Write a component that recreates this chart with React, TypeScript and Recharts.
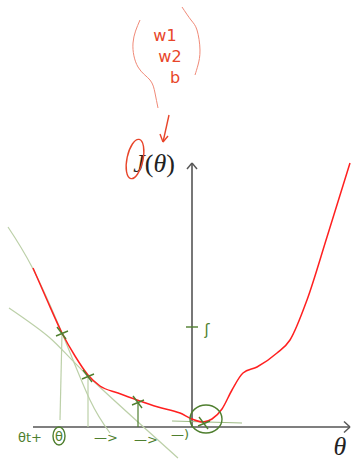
import { ComposedChart, Line, Scatter, XAxis, YAxis, ReferenceLine, ReferenceDot } from 'recharts';

// cost curve J(θ), one unit = a fifth of the marked "5" step
const theta = [-7.95, -7.25, -6.5, -5.85, -5.2, -4.6, -3.7, -2.75, -1.7, -0.6, 0, 0.55, 1.0, 1.5, 2.0, 2.55, 3.25, 4.25, 4.9, 5.75, 6.75, 7.9];
const cost = [7.95, 6.35, 4.7, 3.55, 2.6, 2.05, 1.7, 1.35, 1.0, 0.7, 0.4, 0.25, 0.4, 0.9, 1.85, 2.7, 3.0, 3.7, 4.35, 6.35, 9.5, 13.2];

// gradient descent steps along the curve
const stepTheta = [-6.5, -5.2, -2.7, 0.6];
const stepCost = [4.7, 2.55, 1.25, 0.2];

// tangent sketches at the first two steps and at the minimum
const tanAx = [-9.2, -8.0, -6.5, -5.1, -4.1];
const tanAy = [10.0, 8.0, 4.7, 1.35, -0.3];
const tanBx = [-9.15, -7.1, -5.2, -0.7];
const tanBy = [5.95, 4.45, 2.55, -1.55];
const tanMinX = [-1.0, 2.5];
const tanMinY = [0.3, 0.2];

// brackets around the parameter list
const leftParenX = [-2.6, -2.95, -2.7, -2.1, -1.85, -1.7];
const leftParenY = [20.35, 19.2, 18.0, 17.35, 16.7, 15.95];
const rightParenX = [-0.5, -0.05, 0.25, 0.4, 0.3, 0.15];
const rightParenY = [21.0, 20.35, 19.85, 18.85, 18.1, 17.6];

const params = ['w1', 'w2', 'b'];

const zip = (xs: number[], ys: number[]) => xs.map((x, i) => ({ x, y: ys[i] }));

const curve = zip(theta, cost);
const steps = zip(stepTheta, stepCost);

const AXIS = '#555';
const RED = '#ff2020';
const NOTE_RED = '#e8452a';
const GREEN = '#4f7f2f';
const PALE_GREEN = '#bcd0a8';

const Cross = (p: any) => (
  <g stroke={GREEN} strokeWidth={1.4}>
    <line x1={p.cx - 5} y1={p.cy - 6} x2={p.cx + 4} y2={p.cy + 6} />
    <line x1={p.cx - 6} y1={p.cy + 3} x2={p.cx + 6} y2={p.cy - 2} />
  </g>
);

const ring = (rx: number, ry: number, color: string, rot = 0) => (p: any) => (
  <ellipse
    cx={p.cx}
    cy={p.cy}
    rx={rx}
    ry={ry}
    fill="none"
    stroke={color}
    strokeWidth={1.4}
    transform={`rotate(${rot} ${p.cx} ${p.cy})`}
  />
);

const note = (content: React.ReactNode, size: number, color: string, family = 'DejaVu Sans') => (p: any) => (
  <text
    x={p.cx}
    y={p.cy}
    fontSize={size}
    fill={color}
    fontFamily={family}
    textAnchor="middle"
    dominantBaseline="central"
  >
    {content}
  </text>
);

const seg = (x1: number, y1: number, x2: number, y2: number) => [
  { x: x1, y: y1 },
  { x: x2, y: y2 },
];

// plain stroked path through a list of points, no markers
const Path = ({ data, type, stroke, width }: { data: { x: number; y: number }[]; type: any; stroke: string; width: number }) => (
  <Line
    data={data}
    dataKey="y"
    type={type}
    stroke={stroke}
    strokeWidth={width}
    dot={false}
    activeDot={false}
    legendType="none"
    isAnimationActive={false}
  />
);

export default function App() {
  return (
    <div style={{ position: 'absolute', left: 0, top: 0, background: '#fff' }}>
      <ComposedChart width={356} height={459} margin={{ top: 0, right: 0, bottom: 0, left: 0 }}>
        <XAxis type="number" dataKey="x" domain={[-9.6, 8.2]} hide allowDataOverflow />
        <YAxis type="number" dataKey="y" domain={[-1.6, 21.35]} hide allowDataOverflow />

        {/* axes with arrow heads */}
        <ReferenceLine segment={seg(-7.95, 0, 7.9, 0)} stroke={AXIS} strokeWidth={1.6} ifOverflow="visible" />
        <ReferenceLine segment={seg(0, 0, 0, 13.2)} stroke={AXIS} strokeWidth={1.6} ifOverflow="visible" />
        <ReferenceLine segment={seg(7.9, 0, 7.6, 0.28)} stroke={AXIS} strokeWidth={1.4} ifOverflow="visible" />
        <ReferenceLine segment={seg(7.9, 0, 7.6, -0.28)} stroke={AXIS} strokeWidth={1.4} ifOverflow="visible" />
        <ReferenceLine segment={seg(0, 13.2, -0.25, 12.9)} stroke={AXIS} strokeWidth={1.4} ifOverflow="visible" />
        <ReferenceLine segment={seg(0, 13.2, 0.25, 12.9)} stroke={AXIS} strokeWidth={1.4} ifOverflow="visible" />

        {/* tick for 5 on the cost axis */}
        <ReferenceLine segment={seg(-0.3, 5, 0.3, 5)} stroke={GREEN} strokeWidth={1.4} ifOverflow="visible" />
        <ReferenceDot x={0.75} y={4.85} r={0} shape={note('ʃ', 15, GREEN)} />

        {/* tangent sketches */}
        {Path({ data: zip(tanAx, tanAy), type: 'natural', stroke: PALE_GREEN, width: 1.2 })}
        {Path({ data: zip(tanBx, tanBy), type: 'natural', stroke: PALE_GREEN, width: 1.2 })}
        {Path({ data: zip(tanMinX, tanMinY), type: 'linear', stroke: '#9fbb86', width: 1.2 })}

        {/* drops from each step to the θ axis */}
        <ReferenceLine segment={seg(stepTheta[0], stepCost[0], stepTheta[0] - 0.1, 0.35)} stroke={PALE_GREEN} strokeWidth={1.2} />
        <ReferenceLine segment={seg(stepTheta[1], stepCost[1], stepTheta[1], 0)} stroke={PALE_GREEN} strokeWidth={1.2} />
        <ReferenceLine segment={seg(stepTheta[2], stepCost[2], stepTheta[2], 0)} stroke={GREEN} strokeWidth={1.2} />

        {/* J(θ) */}
        {Path({ data: curve, type: 'monotone', stroke: RED, width: 1.5 })}

        <Scatter data={steps} shape={Cross} isAnimationActive={false} />
        <Scatter data={[{ x: 0.7, y: 0.4 }]} shape={ring(16, 14, GREEN)} isAnimationActive={false} />

        {/* θ updates written under the axis */}
        <ReferenceDot x={-8.1} y={-0.5} r={0} shape={note('θt+', 13, GREEN)} />
        <ReferenceDot x={-6.65} y={-0.45} r={0} shape={note('θ', 13, GREEN)} />
        <Scatter data={[{ x: -6.65, y: -0.45 }]} shape={ring(6, 9, GREEN)} isAnimationActive={false} />
        <ReferenceDot x={-4.3} y={-0.5} r={0} shape={note('—>', 13, GREEN)} />
        <ReferenceDot x={-2.3} y={-0.6} r={0} shape={note('—>', 13, GREEN)} />
        <ReferenceDot x={-0.6} y={-0.35} r={0} shape={note('—)', 13, GREEN)} />

        {/* axis titles */}
        <ReferenceDot
          x={-1.9}
          y={13.2}
          r={0}
          shape={note(
            <>
              <tspan fontStyle="italic">J</tspan>(<tspan fontStyle="italic">θ</tspan>)
            </>,
            26,
            '#222',
            'Liberation Serif',
          )}
        />
        <ReferenceDot x={7.4} y={-0.95} r={0} shape={note(<tspan fontStyle="italic">θ</tspan>, 26, '#222', 'Liberation Serif')} />

        {/* parameter bracket pointing at θ */}
        {Path({ data: zip(leftParenX, leftParenY), type: 'natural', stroke: '#f08a78', width: 1 })}
        {Path({ data: zip(rightParenX, rightParenY), type: 'natural', stroke: '#f08a78', width: 1 })}
        {params.map((p, i) => (
          <ReferenceDot key={p} x={-1.35 + i * 0.25} y={19.6 - i * 1.05} r={0} shape={note(p, 16, NOTE_RED)} />
        ))}
        <ReferenceLine segment={seg(-1.15, 15.6, -1.45, 14.25)} stroke={NOTE_RED} strokeWidth={1.4} ifOverflow="visible" />
        <ReferenceLine segment={seg(-1.45, 14.25, -1.6, 14.65)} stroke={NOTE_RED} strokeWidth={1.4} ifOverflow="visible" />
        <ReferenceLine segment={seg(-1.45, 14.25, -1.2, 14.55)} stroke={NOTE_RED} strokeWidth={1.4} ifOverflow="visible" />
        <Scatter data={[{ x: -2.85, y: 13.4 }]} shape={ring(8, 20, NOTE_RED, 12)} isAnimationActive={false} />
      </ComposedChart>
    </div>
  );
}
